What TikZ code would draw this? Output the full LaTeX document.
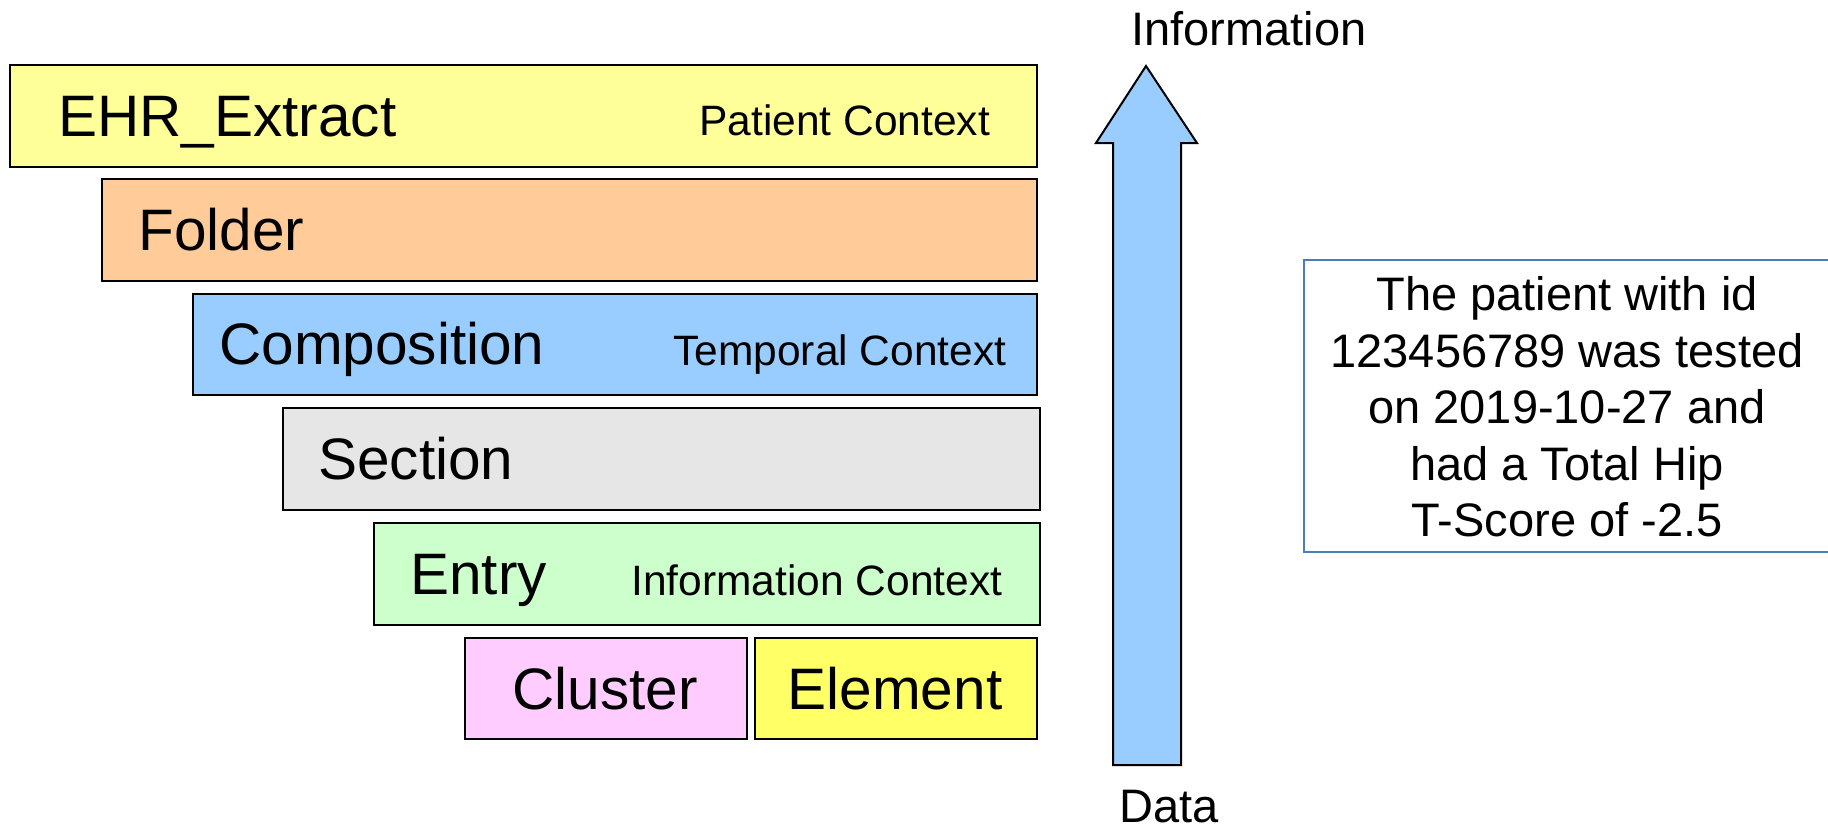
\documentclass[tikz,border=0pt]{standalone}
\usepackage{fontspec}
\setmainfont{Liberation Sans}
\definecolor{ehrc}{HTML}{FFFF99}
\definecolor{folderc}{HTML}{FFCC99}
\definecolor{compc}{HTML}{99CCFF}
\definecolor{sectc}{HTML}{E6E6E6}
\definecolor{entryc}{HTML}{CCFFCC}
\definecolor{clusterc}{HTML}{FFCCFF}
\definecolor{elemc}{HTML}{FFFF66}
\definecolor{arrowc}{HTML}{99CCFF}
\definecolor{framec}{HTML}{4A7EBB}
\begin{document}
\begin{tikzpicture}[x=0.5pt,y=-0.5pt,
  layer/.style={draw=black, line width=1pt, inner sep=0pt, anchor=north west},
  big/.style={font=\fontsize{29.25}{34}\selectfont, inner sep=0pt},
  ctx/.style={font=\fontsize{21.25}{25}\selectfont, anchor=base west, inner sep=0pt},
  axislbl/.style={font=\fontsize{23.5}{28}\selectfont, anchor=base, inner sep=0pt},
]
\clip (0,0) rectangle (1828,830);
\fill[white] (0,0) rectangle (1828,830);

% nested record levels
\node[layer, fill=ehrc,    minimum width=513.5pt, minimum height=51pt]   (ehr)     at (9,64)   {};
\node[layer, fill=folderc, minimum width=467.5pt, minimum height=51pt]   (folder)  at (101,178) {};
\node[layer, fill=compc,   minimum width=422pt,   minimum height=50.5pt] (comp)    at (192,293) {};
\node[layer, fill=sectc,   minimum width=378.5pt, minimum height=51pt]   (section) at (282,407) {};
\node[layer, fill=entryc,  minimum width=333pt,   minimum height=51pt]   (entry)   at (373,522) {};
\node[layer, fill=clusterc,minimum width=141pt,   minimum height=50.5pt] (cluster) at (464,637) {};
\node[layer, fill=elemc,   minimum width=141pt,   minimum height=50.5pt] (element) at (754,637) {};

% level names
\node[big, anchor=base west] (ehrlbl)     at (58,136)  {EHR\_Extract};
\node[big, anchor=base west] (folderlbl)  at (138,250) {Folder};
\node[big, anchor=base west] (complbl)    at (219,364) {Composition};
\node[big, anchor=base west] (sectlbl)    at (318,479) {Section};
\node[big, anchor=base west] (entrylbl)   at (410,594) {Entry};
\node[big, anchor=base]      (clusterlbl) at (605,709) {Cluster};
\node[big, anchor=base]      (elemlbl)    at (895,709) {Element};

% context annotations
\node[ctx] (patctx)  at (699,135) {Patient Context};
\node[ctx] (tempctx) at (673,365) {Temporal Context};
\node[ctx] (infctx)  at (631,595) {Information Context};

% data-to-information arrow
\draw[fill=arrowc, line width=1pt, line join=miter]
  (1113,765) -- (1113,143) -- (1096,143) -- (1146,66) -- (1197,143)
  -- (1181,143) -- (1181,765) -- cycle;
\node[axislbl] (info) at (1249,46)  {Information};
\node[axislbl] (data) at (1169,822) {Data};

% example statement
\node[draw=framec, line width=0.8pt, inner sep=0pt, anchor=north west,
      minimum width=285pt, minimum height=146pt] (frame) at (1303,259) {};
\node[font=\fontsize{23.5}{28.25}\selectfont, align=center, inner sep=0pt]
  (fact) at (1567,407)
  {The patient with id\\123456789 was tested\\on 2019-10-27 and\\had a Total Hip\\T-Score of -2.5};
\end{tikzpicture}
\end{document}
